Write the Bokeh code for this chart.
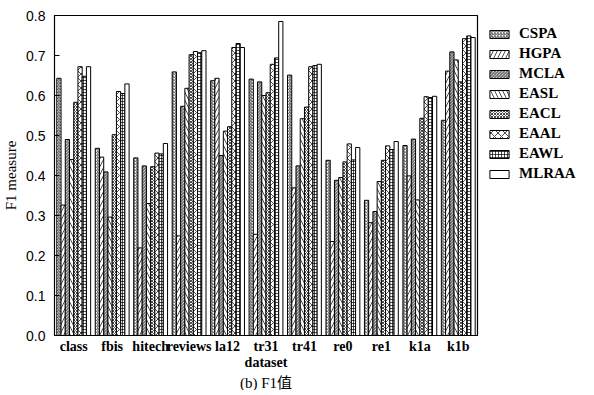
from bokeh.plotting import figure
from bokeh.models import FactorRange, Range1d, ColumnDataSource, Legend, LegendItem, Title, SingleIntervalTicker, NumeralTickFormatter
from bokeh.transform import dodge
from bokeh.embed import file_html
from bokeh.resources import INLINE

datasets = ["class", "fbis", "hitech", "reviews", "la12", "tr31", "tr41", "re0", "re1", "k1a", "k1b"]
CSPA  = [0.643, 0.468, 0.444, 0.659, 0.637, 0.641, 0.651, 0.438, 0.338, 0.475, 0.538]
HGPA  = [0.326, 0.446, 0.219, 0.249, 0.643, 0.253, 0.369, 0.235, 0.282, 0.399, 0.661]
MCLA  = [0.490, 0.409, 0.424, 0.573, 0.450, 0.634, 0.424, 0.388, 0.310, 0.491, 0.709]
EASL  = [0.440, 0.296, 0.330, 0.618, 0.511, 0.600, 0.542, 0.395, 0.385, 0.339, 0.689]
EACL  = [0.583, 0.502, 0.422, 0.702, 0.522, 0.607, 0.571, 0.434, 0.438, 0.543, 0.634]
EAAL  = [0.672, 0.610, 0.456, 0.710, 0.720, 0.678, 0.672, 0.479, 0.474, 0.597, 0.742]
EAWL  = [0.648, 0.605, 0.454, 0.707, 0.730, 0.694, 0.675, 0.439, 0.465, 0.595, 0.749]
MLRAA = [0.672, 0.629, 0.480, 0.712, 0.720, 0.785, 0.678, 0.470, 0.485, 0.598, 0.745]

series_names = ["CSPA", "HGPA", "MCLA", "EASL", "EACL", "EAAL", "EAWL", "MLRAA"]
series_vals = [CSPA, HGPA, MCLA, EASL, EACL, EAAL, EAWL, MLRAA]
hatches = [("/", 3), ("/", 8), ("\\", 3), ("\\", 8), ("x", 3), ("x", 7), ("+", 3), (" ", 1)]

SERIF = "'Liberation Serif', 'Times New Roman', serif"
CJK = "'Liberation Serif', 'Noto Sans CJK SC', serif"
SANS = "'Liberation Sans', Arial, sans-serif"

src = ColumnDataSource(dict(dataset=datasets, **{n: v for n, v in zip(series_names, series_vals)}))

p = figure(x_range=FactorRange(factors=datasets, range_padding=0),
           y_range=Range1d(0, 0.8),
           frame_width=423, frame_height=320, output_backend="svg", toolbar_location=None,
           min_border_left=47, min_border_right=0, min_border_top=15, min_border_bottom=0)

bw = 0.11
items = []
for j, (name, (hp, hs)) in enumerate(zip(series_names, hatches)):
    r = p.vbar(x=dodge("dataset", (j - 3.5) * bw, range=p.x_range), top=name, width=bw,
               source=src, fill_color="white", line_color="black", line_width=1,
               hatch_pattern=hp, hatch_scale=hs, hatch_color="black", hatch_weight=0.7)
    items.append(LegendItem(label=name, renderers=[r]))

legend = Legend(items=items, location="top_left", border_line_color=None,
                background_fill_alpha=0, label_text_font=SERIF, label_text_font_style="bold",
                label_text_font_size="15px", label_text_color="black", glyph_width=24, glyph_height=10,
                label_height=14, spacing=3, padding=2, margin=10, label_standoff=8)
p.add_layout(legend, "right")

p.xgrid.grid_line_color = None
p.ygrid.grid_line_color = None
p.outline_line_color = "black"
p.outline_line_width = 1.2

p.yaxis.ticker = SingleIntervalTicker(interval=0.1)
p.yaxis.formatter = NumeralTickFormatter(format="0.0")
p.yaxis.major_label_text_font = SANS
p.yaxis.major_label_text_font_size = "14px"
p.yaxis.major_label_text_color = "black"
p.yaxis.major_tick_in = 5
p.yaxis.major_tick_out = 0
p.yaxis.minor_tick_line_color = None
p.yaxis.major_label_standoff = 5
p.yaxis.axis_label = "F1 measure"
p.yaxis.axis_label_text_font = SERIF
p.yaxis.axis_label_text_font_style = "normal"
p.yaxis.axis_label_text_font_size = "15px"
p.yaxis.axis_label_text_color = "black"
p.yaxis.axis_label_standoff = 4
p.yaxis.axis_line_color = "black"

p.xaxis.major_tick_line_color = None
p.xaxis.major_tick_in = 0
p.xaxis.major_tick_out = 0
p.xaxis.minor_tick_line_color = None
p.xaxis.major_label_text_font = SERIF
p.xaxis.major_label_text_font_style = "bold"
p.xaxis.major_label_text_font_size = "14px"
p.xaxis.major_label_text_color = "black"
p.xaxis.major_label_standoff = 3
p.xaxis.axis_label = "dataset"
p.xaxis.axis_label_text_font = SERIF
p.xaxis.axis_label_text_font_style = "bold"
p.xaxis.axis_label_text_font_size = "14px"
p.xaxis.axis_label_text_color = "black"
p.xaxis.axis_label_standoff = -2

caption = Title(text="(b) F1值", align="center", text_font=CJK, text_font_size="15px",
                text_font_style="normal", text_color="black", standoff=0, offset=0)
p.add_layout(caption, "below")

open("out.html", "w").write(file_html(p, INLINE))
